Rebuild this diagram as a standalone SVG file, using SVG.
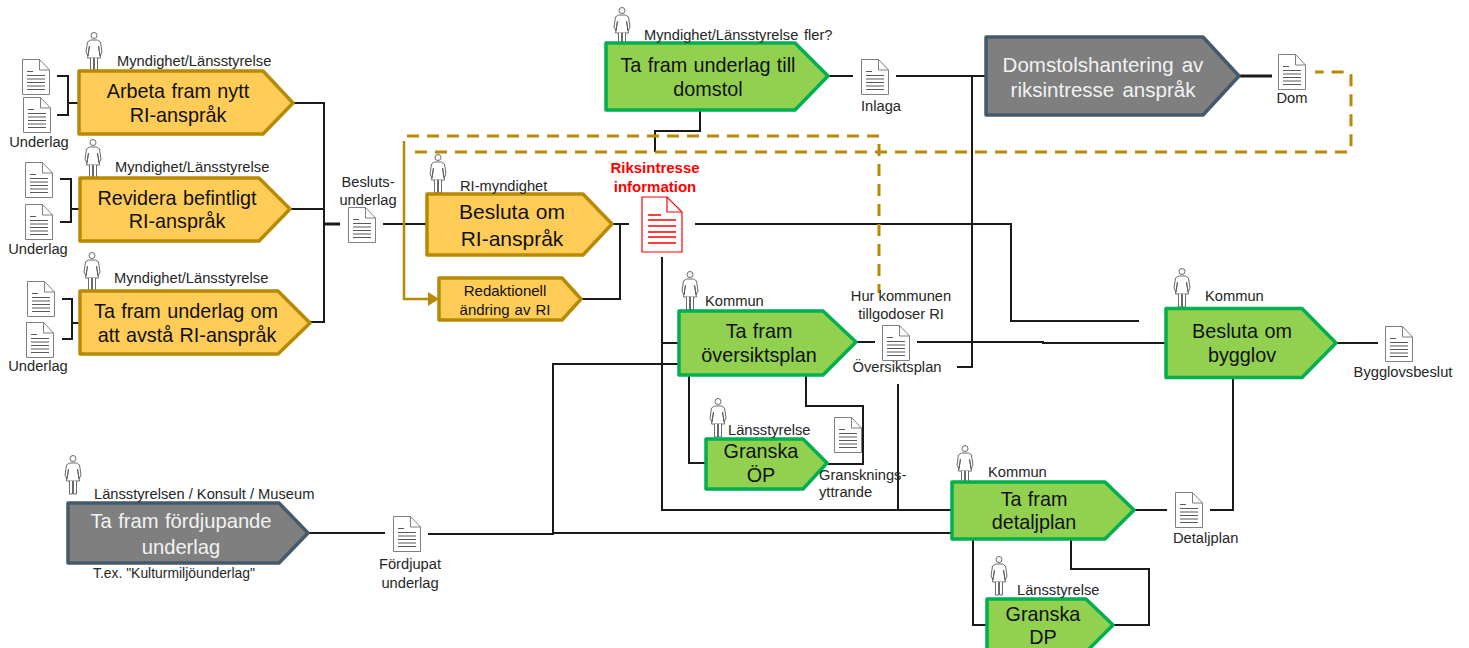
<svg xmlns="http://www.w3.org/2000/svg" width="1469" height="648" viewBox="0 0 1469 648">
<style>
text{font-family:"Liberation Sans",Arial,sans-serif;fill:#262626}
.l{font-size:14.700px}
.m{text-anchor:middle}
.n{font-size:19.800px;text-anchor:middle;fill:#111;word-spacing:.8px}
.b{font-size:21px}
.w{fill:#f2f2f2}
.y{fill:#ffcc57;stroke:#b78a06;stroke-width:3.5;stroke-linejoin:round}
.g{fill:#92d050;stroke:#00b050;stroke-width:3.5;stroke-linejoin:round}
.k{fill:#7f7f7f;stroke:#44596b;stroke-width:3.5;stroke-linejoin:round}
.c{fill:none;stroke:#1a1a1a;stroke-width:2}
.t{stroke-width:3}
.d{fill:none;stroke:#b78a06;stroke-width:3;stroke-dasharray:12 8}
.s{fill:none;stroke:#b78a06;stroke-width:2.5}
.r{font-size:15px;font-weight:bold;fill:#ff0000;text-anchor:middle}
</style>
<defs>
<symbol id="doc" viewBox="0 0 28 36" width="28" height="36" overflow="visible">
<path d="M.5 .5H17.500L27.500 11V35.500H.5Z" fill="#fff" stroke="#7f7f7f" stroke-width="1"/>
<path d="M17.500 .5V11H27.500" fill="none" stroke="#7f7f7f" stroke-width="1"/>
<path d="M5 12.500H11M5 16.500H23M5 20H23M5 23.500H23M5 27H23M5 30.500H23" fill="none" stroke="#595959" stroke-width="1.200"/>
</symbol>
<symbol id="person" viewBox="0 0 18 39" width="18" height="39" overflow="visible">
<g fill="#fff" stroke="#595959" stroke-width=".9">
<circle cx="9" cy="3.500" r="3"/>
<path d="M5.500 8H12.500L15.500 10 17 20 15 24 13.500 14 15.500 26H2.500L4.500 14 3 24 1 20 2.500 10Z"/>
<path d="M5.500 26V39H8.500V26M9.500 26V39H12.500V26"/>
</g>
</symbol>
</defs>

<g id="connectors">
<path class="c" d="M57 76H68V115H57M68 103H79"/>
<path class="c" d="M60 179H71V222H60M71 209H80"/>
<path class="c" d="M62 299H72V339H62M72 323H80"/>
<path class="c" d="M293 103H324V322H310M290 209H324"/>
<path class="c t" d="M324 224H340"/>
<path class="c" d="M383 224H427"/>
<path class="c" d="M612 224H629M581 299H620V224"/>
<path class="c" d="M695 224H1011V321H1139"/>
<path class="c" d="M662 257V510H952M662 343H679"/>
<path class="c" d="M898 384V510"/>
<path class="c" d="M428 534H553V364H679M553 533H952"/>
<path class="c" d="M856 342H875"/>
<path class="c" d="M917 342H1043V343H1166"/>
<path class="c" d="M957 367H972V76"/>
<path class="c" d="M828 76H853M896 76H986"/>
<path class="c t" d="M1239 76H1272"/>
<path class="c" d="M700 110V131H655V152"/>
<path class="c" d="M689 375V463H706"/>
<path class="c" d="M806 375V406H863V464H827"/>
<path class="c" d="M1336 343H1378"/>
<path class="c" d="M1134 510H1167M1210 510H1233V377"/>
<path class="c" d="M973 539V625H987"/>
<path class="c" d="M1071 539V569H1149V625H1113"/>
<path class="c" d="M308 533H385"/>
<path class="d" d="M407 136H879V293"/>
<path class="d" d="M415 152H1347Q1351 152 1351 148V76Q1351 72 1347 72H1315"/>
<path class="s" d="M404 141V299H430"/>
<path d="M428 292L439 299 428 306Z" fill="#b78a06"/>
</g>

<g id="node-arbeta">
<use href="#person" x="85" y="32"/>
<path class="y" d="M79 71H263L293 103 263 134H79Z"/>
<text class="l" x="117" y="66">Myndighet/Länsstyrelse</text>
<text class="n" x="178" y="98">Arbeta fram nytt</text>
<text class="n" x="178" y="122">RI-anspråk</text>
</g>
<g id="node-revidera">
<use href="#person" x="84" y="139"/>
<path class="y" d="M80 178H259L290 209 259 241H80Z"/>
<text class="l" x="115" y="172">Myndighet/Länsstyrelse</text>
<text class="n" x="177" y="205">Revidera befintligt</text>
<text class="n" x="177" y="228">RI-anspråk</text>
</g>
<g id="node-avsta">
<use href="#person" x="83" y="252"/>
<path class="y" d="M80 291H278L310 323 278 354H80Z"/>
<text class="l" x="114" y="283">Myndighet/Länsstyrelse</text>
<text class="n" x="186" y="318">Ta fram underlag om</text>
<text class="n" x="187" y="342">att avstå RI-anspråk</text>
</g>
<g id="doc-underlag-1">
<use href="#doc" x="22" y="59"/>
<use href="#doc" x="23" y="97"/>
<text class="l m" x="39" y="147">Underlag</text>
</g>
<g id="doc-underlag-2">
<use href="#doc" x="25" y="162"/>
<use href="#doc" x="25" y="204"/>
<text class="l m" x="38" y="254">Underlag</text>
</g>
<g id="doc-underlag-3">
<use href="#doc" x="27" y="281"/>
<use href="#doc" x="26" y="322"/>
<text class="l m" x="38" y="371">Underlag</text>
</g>
<g id="doc-beslutsunderlag">
<use href="#doc" x="348" y="207"/>
<text class="l m" x="368" y="187">Besluts-</text>
<text class="l m" x="368" y="205">underlag</text>
</g>
<g id="node-besluta-ri">
<use href="#person" x="429" y="154"/>
<path class="y" d="M427 194H583L612 224 583 255H427Z"/>
<text class="l" x="460" y="191">RI-myndighet</text>
<text class="n b" x="512" y="219">Besluta om</text>
<text class="n b" x="512" y="246">RI-anspråk</text>
</g>
<g id="node-redaktionell">
<path class="y" d="M439 278H562L581 299 562 320H439Z"/>
<text class="n" style="font-size:15px" x="505" y="296">Redaktionell</text>
<text class="n" style="font-size:15px" x="505" y="315">ändring av RI</text>
</g>
<g id="doc-riksintresse">
<text class="r" x="655" y="173">Riksintresse</text>
<text class="r" x="655" y="192">information</text>
<path d="M642 197H667L682 212V252H642Z" fill="#fff" stroke="#ff0000" stroke-width="1.200"/>
<path d="M667 197V212H682" fill="none" stroke="#ff0000" stroke-width="1.200"/>
<path d="M648 215H661M648 220H676M648 226H676M648 232H676M648 237H676M648 243H676" fill="none" stroke="#ff0000" stroke-width="1.500"/>
</g>
<g id="node-domstol">
<use href="#person" x="613" y="7"/>
<path class="g" d="M606 43H795L828 76 795 110H606Z"/>
<text class="l" x="644" y="40" style="word-spacing:1.500px">Myndighet/Länsstyrelse fler?</text>
<text class="n" x="708" y="72">Ta fram underlag till</text>
<text class="n" x="708" y="96">domstol</text>
</g>
<g id="doc-inlaga">
<use href="#doc" x="861" y="59"/>
<text class="l" x="861" y="111">Inlaga</text>
</g>
<g id="node-domstolshantering">
<path class="k" d="M986 37H1203L1239 76 1203 115H986Z"/>
<text class="n w" style="font-size:20.500px;word-spacing:2.500px" x="1103" y="72">Domstolshantering av</text>
<text class="n w" style="font-size:20.500px;word-spacing:2.500px" x="1103" y="97">riksintresse anspråk</text>
</g>
<g id="doc-dom">
<use href="#doc" x="1278" y="54"/>
<text class="l m" x="1292" y="103">Dom</text>
</g>
<g id="node-oversiktsplan">
<use href="#person" x="681" y="271"/>
<path class="g" d="M679 311H823L856 342 823 375H679Z"/>
<text class="l" x="705" y="306">Kommun</text>
<text class="n" x="759" y="338">Ta fram</text>
<text class="n" x="759" y="362">översiktsplan</text>
</g>
<g id="doc-oversiktsplan">
<use href="#doc" x="882" y="325"/>
<text class="l m" x="901" y="301">Hur kommunen</text>
<text class="l m" x="901" y="319">tillgodoser RI</text>
<text class="l m" x="897" y="372">Översiktsplan</text>
</g>
<g id="node-granska-op">
<use href="#person" x="709" y="398"/>
<path class="g" d="M706 439H803L827 463 803 489H706Z"/>
<text class="l" x="728" y="435">Länsstyrelse</text>
<text class="n" x="761" y="458">Granska</text>
<text class="n" x="761" y="482">ÖP</text>
</g>
<g id="doc-granskning">
<use href="#doc" x="834" y="417"/>
<text class="l" x="819" y="480">Gransknings-</text>
<text class="l" x="819" y="497">yttrande</text>
</g>
<g id="node-bygglov">
<use href="#person" x="1173" y="268"/>
<path class="g" d="M1166 308.500H1302L1336 343 1302 377.500H1166Z"/>
<text class="l" x="1205" y="301">Kommun</text>
<text class="n" x="1242" y="338">Besluta om</text>
<text class="n" x="1242" y="362">bygglov</text>
</g>
<g id="doc-bygglovsbeslut">
<use href="#doc" x="1385" y="326"/>
<text class="l m" x="1403" y="377">Bygglovsbeslut</text>
</g>
<g id="node-detaljplan">
<use href="#person" x="956" y="445"/>
<path class="g" d="M952 482H1105L1134 510 1105 539H952Z"/>
<text class="l" x="988" y="477">Kommun</text>
<text class="n" x="1034" y="506">Ta fram</text>
<text class="n" x="1034" y="529">detaljplan</text>
</g>
<g id="doc-detaljplan">
<use href="#doc" x="1175" y="492"/>
<text class="l" x="1173" y="543">Detaljplan</text>
</g>
<g id="node-granska-dp">
<use href="#person" x="990" y="556"/>
<path class="g" d="M987 599H1086L1113 625 1086 652H987Z"/>
<text class="l" x="1017" y="595">Länsstyrelse</text>
<text class="n" x="1043" y="621">Granska</text>
<text class="n" x="1043" y="644">DP</text>
</g>
<g id="node-fordjupande">
<use href="#person" x="64" y="455"/>
<path class="k" d="M68 503H279L308 533 279 563H68Z"/>
<text class="l" x="94" y="499">Länsstyrelsen / Konsult / Museum</text>
<text class="n w" style="font-size:20.200px" x="181" y="528">Ta fram fördjupande</text>
<text class="n w" style="font-size:20.200px" x="181" y="554">underlag</text>
<text class="l" style="font-size:13.900px" x="93" y="578">T.ex. "Kulturmiljöunderlag"</text>
</g>
<g id="doc-fordjupat">
<use href="#doc" x="393" y="516"/>
<text class="l m" x="410" y="569">Fördjupat</text>
<text class="l m" x="410" y="588">underlag</text>
</g>
</svg>
